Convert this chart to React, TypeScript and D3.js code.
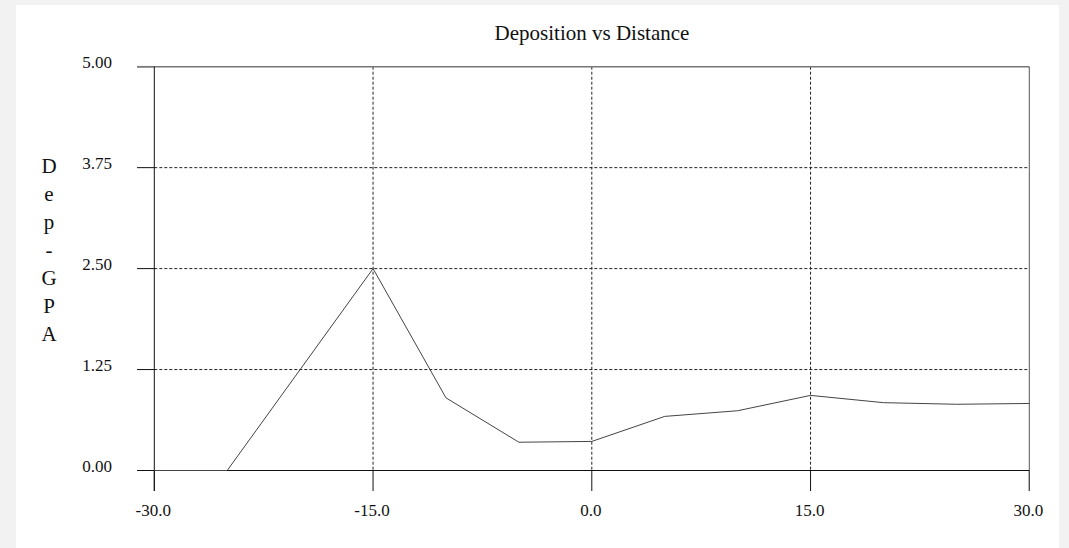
import React from "react";
import * as d3 from "d3";

const distance = [-30, -25, -20, -15, -10, -5, 0, 5, 10, 15, 20, 25, 30];
const deposition = [0, 0, 1.25, 2.5, 0.9, 0.35, 0.36, 0.67, 0.74, 0.93, 0.84, 0.82, 0.83];
const xTicks = [-30, -15, 0, 15, 30];
const yTicks = [0, 1.25, 2.5, 3.75, 5];
const yLabelChars = ["D", "e", "p", "-", "G", "P", "A"];
const title = "Deposition vs Distance";

export default function App() {
  const W = 1069, H = 548;
  const x = d3.scaleLinear().domain([-30, 30]).range([154.3, 1029.3]);
  const y = d3.scaleLinear().domain([0, 5]).range([470.5, 66.7]);
  const line = d3.line<number>().x((_, i) => x(distance[i])).y((d) => y(d));
  const font = "'Liberation Serif', 'Times New Roman', serif";
  const x0 = x(-30), x1 = x(30), yb = y(0), yt = y(5);
  return (
    <svg width={W} height={H} style={{ position: "absolute", left: 0, top: 0, display: "block" }}>
      <rect x={0} y={0} width={W} height={H} fill="#f2f2f2" />
      <rect x={16} y={5} width={1043} height={H - 5} fill="#ffffff" />
      <text x={592} y={40} textAnchor="middle" fontFamily={font} fontSize={21} fill="#111">{title}</text>
      {/* grid */}
      {yTicks.filter((t) => t > 0 && t < 5).map((t) => (
        <line key={"gy" + t} x1={x0} x2={x1} y1={y(t)} y2={y(t)} stroke="#222" strokeWidth={1} strokeDasharray="3,2" />
      ))}
      {xTicks.filter((t) => t > -30 && t < 30).map((t) => (
        <line key={"gx" + t} x1={x(t)} x2={x(t)} y1={yt} y2={yb} stroke="#222" strokeWidth={1} strokeDasharray="3,2" />
      ))}
      {/* y ticks */}
      {yTicks.map((t) => (
        <g key={"yt" + t}>
          <line x1={137} x2={x0} y1={y(t)} y2={y(t)} stroke={t === 5 ? "#777" : "#111"} strokeWidth={t === 5 ? 1.5 : 1} />
          <text x={112} y={y(t) + 1} textAnchor="end" fontFamily={font} fontSize={17} fill="#111">{t.toFixed(2)}</text>
        </g>
      ))}
      {/* x ticks */}
      {xTicks.map((t) => (
        <g key={"xt" + t}>
          <line x1={x(t)} x2={x(t)} y1={yb} y2={491} stroke="#111" strokeWidth={1} />
          <text x={x(t) - 1} y={516} textAnchor="middle" fontFamily={font} fontSize={17} fill="#111">{t.toFixed(1)}</text>
        </g>
      ))}
      {/* frame */}
      <line x1={137} x2={x1} y1={yt} y2={yt} stroke="#777" strokeWidth={1.5} />
      <line x1={x1} x2={x1} y1={yt} y2={491} stroke="#555" strokeWidth={1} />
      <line x1={x0} x2={x0} y1={yt} y2={491} stroke="#111" strokeWidth={1} />
      <line x1={137} x2={x1} y1={yb} y2={yb} stroke="#111" strokeWidth={1} />
      {/* data */}
      <path d={line(deposition) || ""} fill="none" stroke="#444" strokeWidth={1} />
      {/* y label */}
      {yLabelChars.map((c, i) => (
        <text key={"yl" + i} x={49} y={173 + i * 28} textAnchor="middle" fontFamily={font} fontSize={21} fill="#111">{c}</text>
      ))}
    </svg>
  );
}
